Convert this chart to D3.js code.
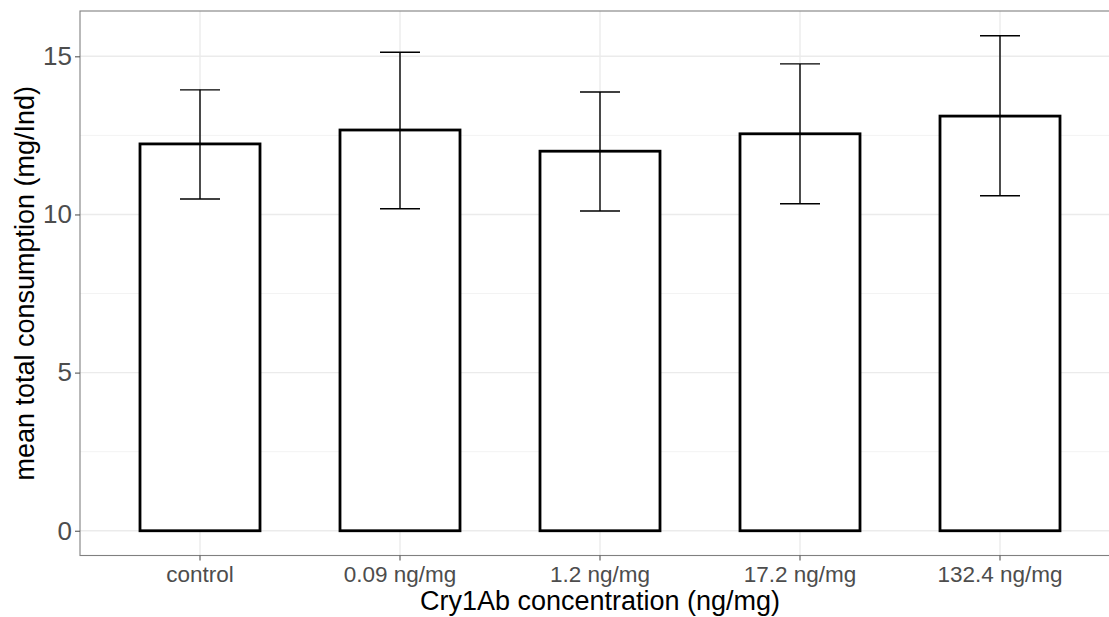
<!DOCTYPE html>
<html>
<head>
<meta charset="utf-8">
<script src="https://cdn.jsdelivr.net/npm/d3@7"></script>
<style>
  html, body { margin: 0; padding: 0; background: #fff; }
  svg { display: block; font-family: "Liberation Sans", Arial, sans-serif; }
</style>
</head>
<body>
<svg id="chart" width="1109" height="617"></svg>
<script>
const categories = ["control", "0.09 ng/mg", "1.2 ng/mg", "17.2 ng/mg", "132.4 ng/mg"];
const means = [12.23, 12.67, 12.0, 12.55, 13.11];
const lower = [10.49, 10.18, 10.11, 10.34, 10.59];
const upper = [13.94, 15.13, 13.87, 14.76, 15.65];
const yTicks = [0, 5, 10, 15];
const yMinor = [2.5, 7.5, 12.5];
const xTitle = "Cry1Ab concentration (ng/mg)";
const yTitle = "mean total consumption (mg/Ind)";

const svg = d3.select("#chart");
const panel = { left: 80, right: 1120, top: 11, bottom: 555.5 };

// ggplot-like expansion
const yMax = d3.max(upper), yMinV = 0;
const yPad = (yMax - yMinV) * 0.05;
const y = d3.scaleLinear().domain([yMinV - yPad, yMax + yPad]).range([panel.bottom, panel.top]);

const x = d3.scaleBand().domain(categories)
  .range([panel.left, panel.right]).paddingInner(0).paddingOuter(0.1);
const step = x.step();
const cx = d => x(d) + x.bandwidth() / 2;

const g = svg.append("g");

g.append("rect").attr("x", panel.left).attr("y", panel.top)
  .attr("width", panel.right - panel.left).attr("height", panel.bottom - panel.top)
  .attr("fill", "#fff");

// minor grid
g.selectAll(".ymin").data(yMinor).join("line")
  .attr("x1", panel.left).attr("x2", panel.right)
  .attr("y1", d => y(d)).attr("y2", d => y(d))
  .attr("stroke", "#f2f2f2").attr("stroke-width", 0.9);
// major grid
g.selectAll(".ymaj").data(yTicks).join("line")
  .attr("x1", panel.left).attr("x2", panel.right)
  .attr("y1", d => y(d)).attr("y2", d => y(d))
  .attr("stroke", "#ebebeb").attr("stroke-width", 1.4);
g.selectAll(".xmaj").data(categories).join("line")
  .attr("x1", d => cx(d)).attr("x2", d => cx(d))
  .attr("y1", panel.top).attr("y2", panel.bottom)
  .attr("stroke", "#ebebeb").attr("stroke-width", 1.4);

// bars
const barW = step * 0.6;
g.selectAll(".bar").data(categories).join("rect")
  .attr("x", d => cx(d) - barW / 2)
  .attr("y", (d, i) => y(means[i]))
  .attr("width", barW)
  .attr("height", (d, i) => y(0) - y(means[i]))
  .attr("fill", "#fff").attr("stroke", "#000").attr("stroke-width", 2.8)
  .attr("stroke-linejoin", "miter");

// error bars
const capW = step * 0.2;
const eb = g.selectAll(".eb").data(categories).join("g");
eb.append("line")
  .attr("x1", d => cx(d)).attr("x2", d => cx(d))
  .attr("y1", (d, i) => y(lower[i])).attr("y2", (d, i) => y(upper[i]))
  .attr("stroke", "#000").attr("stroke-width", 1.4);
eb.append("line")
  .attr("x1", d => cx(d) - capW / 2).attr("x2", d => cx(d) + capW / 2)
  .attr("y1", (d, i) => y(lower[i])).attr("y2", (d, i) => y(lower[i]))
  .attr("stroke", "#000").attr("stroke-width", 1.4);
eb.append("line")
  .attr("x1", d => cx(d) - capW / 2).attr("x2", d => cx(d) + capW / 2)
  .attr("y1", (d, i) => y(upper[i])).attr("y2", (d, i) => y(upper[i]))
  .attr("stroke", "#000").attr("stroke-width", 1.4);

// panel border
g.append("rect").attr("x", panel.left).attr("y", panel.top)
  .attr("width", panel.right - panel.left).attr("height", panel.bottom - panel.top)
  .attr("fill", "none").attr("stroke", "#808080").attr("stroke-width", 1.1);

// y axis
const yAxis = d3.axisLeft(y).tickValues(yTicks).tickSize(5).tickPadding(3).tickFormat(d3.format("d"));
const ya = svg.append("g").attr("transform", `translate(${panel.left},0)`).call(yAxis);
ya.select(".domain").remove();
ya.selectAll(".tick line").attr("stroke", "#555").attr("stroke-width", 1.1);
ya.selectAll(".tick text").attr("fill", "#4d4d4d").attr("font-size", 26)
  .attr("font-family", "Liberation Sans, Arial, sans-serif");

// x axis
const xAxis = d3.axisBottom(x).tickSize(5).tickPadding(4);
const xa = svg.append("g").attr("transform", `translate(0,${panel.bottom})`).call(xAxis);
xa.select(".domain").remove();
xa.selectAll(".tick line").attr("stroke", "#555").attr("stroke-width", 1.1);
xa.selectAll(".tick text").attr("fill", "#4d4d4d").attr("font-size", 22.5)
  .attr("font-family", "Liberation Sans, Arial, sans-serif")
  .attr("dy", null).attr("y", 26.5);

// titles
svg.append("text")
  .attr("x", (panel.left + panel.right) / 2).attr("y", 609.5)
  .attr("text-anchor", "middle").attr("font-size", 27).attr("fill", "#000")
  .text(xTitle);
svg.append("text")
  .attr("transform", `translate(34,${(panel.top + panel.bottom) / 2}) rotate(-90)`)
  .attr("text-anchor", "middle").attr("font-size", 27).attr("fill", "#000")
  .text(yTitle);
</script>
</body>
</html>
